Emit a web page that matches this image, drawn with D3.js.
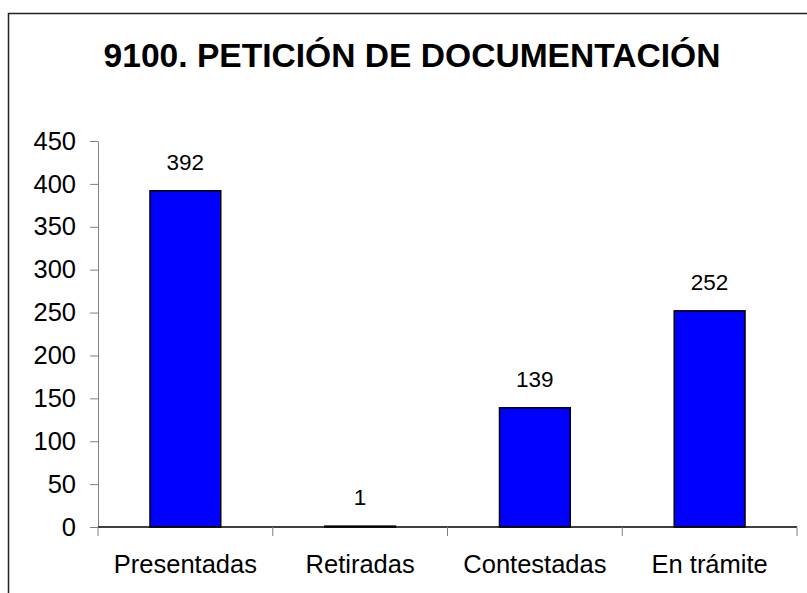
<!DOCTYPE html>
<html>
<head>
<meta charset="utf-8">
<script src="https://cdn.jsdelivr.net/npm/d3@7"></script>
<style>
  body { margin: 0; background: #fff; }
  text { font-family: "Liberation Sans", Arial, sans-serif; }
</style>
</head>
<body>
<svg width="807" height="593"></svg>
<script>
var categories = ['Presentadas', 'Retiradas', 'Contestadas', 'En trámite'];
var values = [392, 1, 139, 252];
var yTicks = [0, 50, 100, 150, 200, 250, 300, 350, 400, 450];
var title = '9100. PETICIÓN DE DOCUMENTACIÓN';

var svg = d3.select('svg'),
  margin = {top: 141, right: 10, bottom: 66, left: 98},
  width = 797 - margin.left,
  height = 527 - margin.top;

// chart frame (cut off at right and bottom)
svg.append('rect')
  .attr('x', 8.5).attr('y', 13.5)
  .attr('width', 900).attr('height', 700)
  .attr('fill', '#fff').attr('stroke', '#222').attr('stroke-width', 1.5);

svg.append('text')
  .attr('x', 412).attr('y', 67)
  .attr('text-anchor', 'middle')
  .style('font-size', '33.6px').style('font-weight', 'bold')
  .text(title);

var x = d3.scaleBand().domain(categories).range([0, width])
  .paddingInner(0.595).paddingOuter(0.2975);
var y = d3.scaleLinear().domain([0, 450]).range([height, 0]);

var g = svg.append('g')
  .attr('transform', 'translate(' + margin.left + ',' + margin.top + ')');

// y axis
var ya = g.append('g')
  .call(d3.axisLeft(y).tickValues(yTicks).tickSize(8).tickPadding(14).tickSizeOuter(0));
ya.select('.domain').attr('stroke', '#808080');
ya.selectAll('.tick line').attr('stroke', '#808080');
ya.selectAll('text').style('font-size', '25.5px').attr('fill', '#000')
  .attr('font-family', null);

// bars
g.selectAll('.bar')
  .data(values)
  .enter().append('rect')
  .attr('class', 'bar')
  .attr('x', function(d, i) { return x(categories[i]); })
  .attr('y', function(d) { return y(d); })
  .attr('width', x.bandwidth())
  .attr('height', function(d) { return height - y(d); })
  .attr('fill', '#0000ff')
  .attr('stroke', '#000')
  .attr('stroke-width', 1.5);

// value labels
g.selectAll('.lbl')
  .data(values)
  .enter().append('text')
  .attr('class', 'lbl')
  .attr('x', function(d, i) { return x(categories[i]) + x.bandwidth() / 2; })
  .attr('y', function(d) { return y(d) - 21; })
  .attr('text-anchor', 'middle')
  .style('font-size', '22.5px')
  .text(function(d) { return d; });

// x axis: category boundary ticks
var xa = g.append('g')
  .attr('transform', 'translate(0,' + height + ')');
xa.append('line')
  .attr('x1', 0).attr('x2', width)
  .attr('stroke', '#000').attr('stroke-width', 1.5);
var edges = categories.map(function(c) { return x(c) - x.step() * x.paddingInner() / 2; });
edges.push(width);
xa.selectAll('.edge')
  .data(edges)
  .enter().append('line')
  .attr('class', 'edge')
  .attr('x1', function(d) { return d; }).attr('x2', function(d) { return d; })
  .attr('y1', 0).attr('y2', 9)
  .attr('stroke', '#808080');
xa.selectAll('.cat')
  .data(categories)
  .enter().append('text')
  .attr('class', 'cat')
  .attr('x', function(c) { return x(c) + x.bandwidth() / 2; })
  .attr('y', 46)
  .attr('text-anchor', 'middle')
  .style('font-size', '25.5px')
  .text(function(c) { return c; });
</script>
</body>
</html>
